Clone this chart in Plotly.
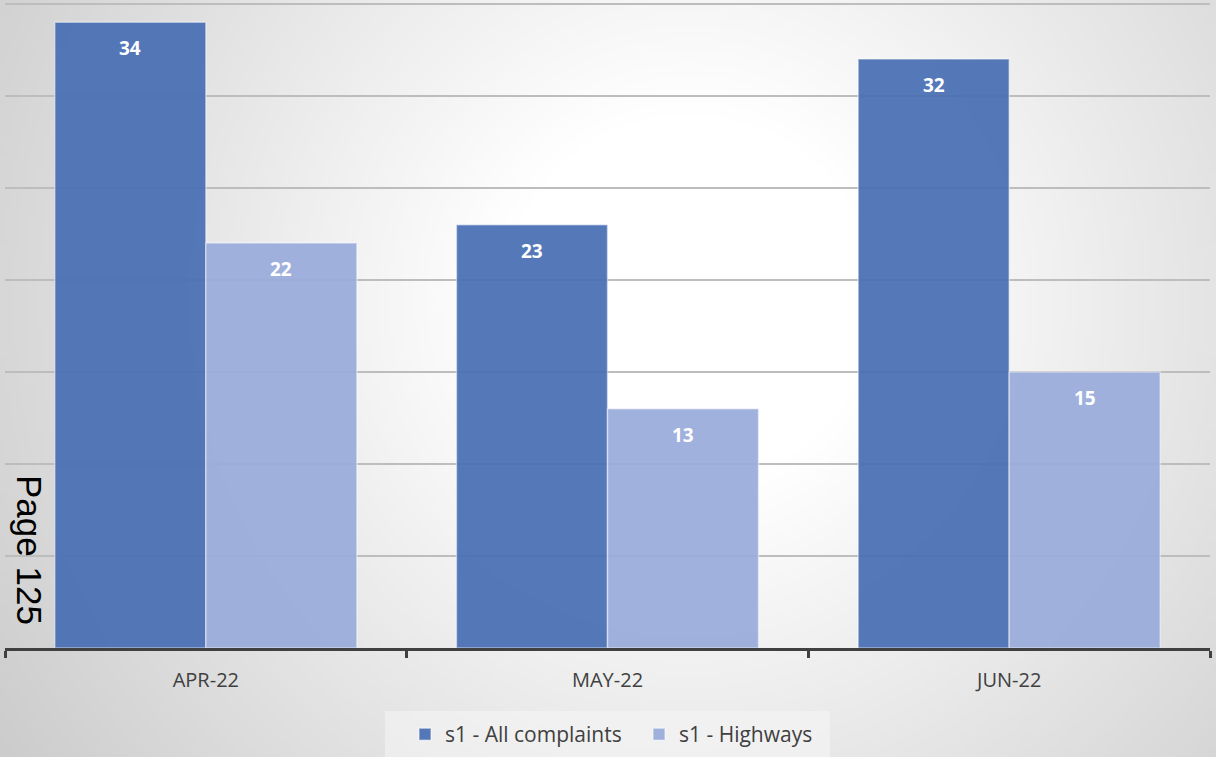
import base64, struct, zlib
import numpy as np
import plotly.graph_objects as go

categories = ["APR-22", "MAY-22", "JUN-22"]
all_complaints = [34, 23, 32]
highways = [22, 13, 15]
series_names = ["s1 - All complaints", "s1 - Highways"]

W, H = 1216, 757
L, R, T, B = 5, 6, 2, 109
PW, PH = W - L - R, H - T - B

# ---- radial gradient background as a small PNG ----
def make_png(arr):
    h, w = arr.shape[:2]
    raw = b"".join(b"\x00" + arr[y].tobytes() for y in range(h))
    def chunk(t, d):
        c = struct.pack(">I", len(d)) + t + d
        return c + struct.pack(">I", zlib.crc32(t + d) & 0xffffffff)
    png = b"\x89PNG\r\n\x1a\n"
    png += chunk(b"IHDR", struct.pack(">IIBBBBB", w, h, 8, 2, 0, 0, 0))
    png += chunk(b"IDAT", zlib.compress(raw, 9))
    png += chunk(b"IEND", b"")
    return "data:image/png;base64," + base64.b64encode(png).decode()

sw, sh = 304, 190
xs = np.linspace(0, W, sw)
ys = np.linspace(0, H, sh)
X, Y = np.meshgrid(xs, ys)
r = np.sqrt((X - 690) ** 2 + (Y - 300) ** 2)
t = np.clip((r - 190) / 540, 0, 1.2)
v = (255 - 43 * t).astype(np.uint8)
img = np.stack([v, v, v], axis=-1)
bg_src = make_png(img)

dark = "rgba(72,110,180,0.93)"
light = "rgba(153,171,218,0.93)"
font_fam = "Open Sans, Liberation Sans, sans-serif"

def px_x(p):
    return (p - L) / PW

def px_y(p):
    return (T + PH - p) / PH

fig = go.Figure()
fig.add_trace(go.Bar(x=categories, y=all_complaints, name=series_names[0],
                     marker=dict(color=dark, line=dict(color="rgba(255,255,255,0.45)", width=1.5))))
fig.add_trace(go.Bar(x=categories, y=highways, name=series_names[1],
                     marker=dict(color=light, line=dict(color="rgba(255,255,255,0.45)", width=1.5))))

annotations = []
for vals, shift in ((all_complaints, -75.5), (highways, 75.5)):
    for c, val in zip(categories, vals):
        annotations.append(dict(x=c, y=val, xref="x", yref="y", text=f"<b>{val}</b>",
                                showarrow=False, xshift=shift, yshift=-26,
                                font=dict(family=font_fam, size=19, color="white")))
annotations.append(dict(xref="paper", yref="paper", x=px_x(30), y=px_y(550),
                        xanchor="center", yanchor="middle", text="Page 125", showarrow=False,
                        textangle=90, font=dict(family="Liberation Sans, Arial", size=35, color="black")))

fig.update_layout(
    width=W, height=H,
    margin=dict(l=L, r=R, t=T, b=B),
    paper_bgcolor="rgba(0,0,0,0)",
    plot_bgcolor="rgba(0,0,0,0)",
    barmode="group", bargap=0.248, bargroupgap=0,
    showlegend=True,
    legend=dict(orientation="h", x=px_x(405), xanchor="left", y=px_y(714), yanchor="top",
                bgcolor="rgba(0,0,0,0)",
                font=dict(family=font_fam, size=21, color="#404040"),
                itemwidth=30, entrywidth=189, entrywidthmode="pixels", tracegroupgap=0),
    annotations=annotations,
    shapes=[dict(type="rect", xref="paper", yref="paper", x0=px_x(385), x1=px_x(830),
                 y0=px_y(757), y1=px_y(711), line=dict(width=0),
                 fillcolor="rgba(245,245,245,0.55)", layer="below")],
    images=[dict(source=bg_src, xref="paper", yref="paper", x=-L / PW, y=(T + PH) / PH,
                 sizex=W / PW, sizey=H / PH, xanchor="left", yanchor="top",
                 sizing="stretch", layer="below")],
    xaxis=dict(showline=True, linecolor="#404040", linewidth=3,
               ticks="outside", tickson="boundaries", ticklen=7, tickwidth=3, tickcolor="#404040",
               ticklabelstandoff=12,
               tickfont=dict(family=font_fam, size=20, color="#404040"),
               showgrid=False, zeroline=False),
    yaxis=dict(range=[0, 35.1], dtick=5, showticklabels=False, showgrid=True,
               gridcolor="#bdbdbd", gridwidth=1.5, zeroline=False, showline=False),
)

fig.write_html("out.html")
